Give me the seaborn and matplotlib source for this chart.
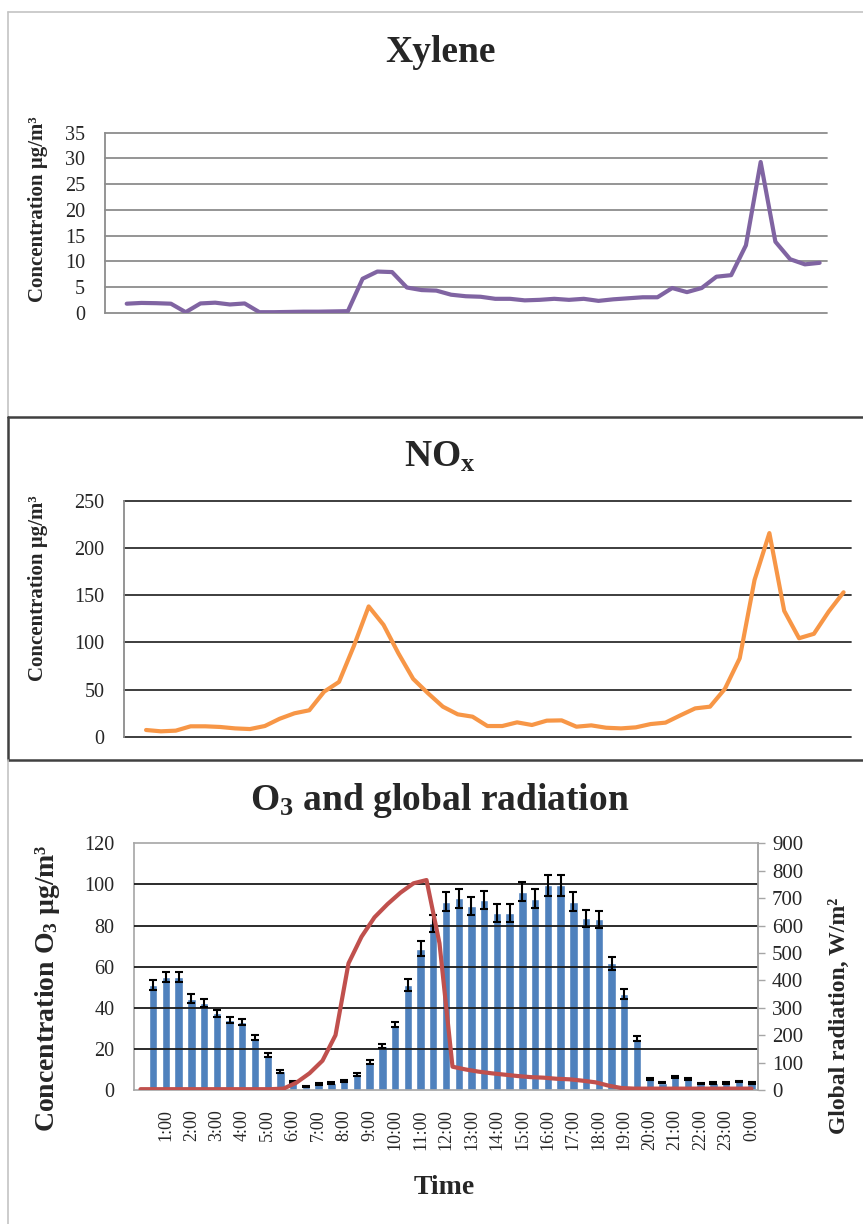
import matplotlib
matplotlib.use("Agg")
import matplotlib.pyplot as plt
from matplotlib.lines import Line2D
import numpy as np
import pandas as pd
import seaborn as sns

# ---------------- data ----------------
slots = list(range(49))            # 49 half-hour category slots
data_slots = list(range(1, 49))    # slots that carry data
hour_labels = [f"{h}:00" for h in range(1, 24)] + ["0:00"]

xylene = [1.75, 1.9, 1.85, 1.75, 0.1, 1.8, 1.95, 1.6, 1.8, 0.1,
          0.1, 0.15, 0.2, 0.2, 0.25, 0.3, 6.6, 8.0, 7.9, 4.9,
          4.4, 4.3, 3.5, 3.2, 3.1, 2.7, 2.7, 2.4, 2.5, 2.7,
          2.5, 2.7, 2.3, 2.6, 2.8, 3.0, 3.0, 4.8, 4.0, 4.8,
          7.0, 7.3, 13.1, 29.3, 13.8, 10.4, 9.4, 9.7]

nox = [7.1, 5.7, 6.4, 11, 11, 10.3, 8.8, 8.1, 11.3, 19,
       24.8, 28, 47.7, 58, 96, 138, 118.5, 88.4, 61.2, 46,
       31.8, 23.7, 21.2, 11.3, 11.3, 15.2, 12.4, 17, 17.3, 10.6,
       12, 9.5, 8.8, 9.9, 13.4, 14.9, 22.6, 30, 31.8, 50.6,
       83, 166, 215.7, 133.3, 104.3, 109, 132.6, 153]

o3 = [51, 55, 55, 44.3, 42.5, 37.3, 34, 33, 25.5, 17,
      9, 4, 1.6, 2.8, 3.4, 4.2, 7.6, 13.6, 21.4, 31.8,
      51, 68.7, 81, 91.6, 93.2, 89.5, 92.4, 86.3, 86, 96.5,
      93, 99.7, 99.7, 91.6, 83.5, 83, 61.6, 46.5, 25, 5.5,
      3.6, 6.5, 5.5, 3.2, 3.5, 3.5, 4.2, 3.5]

o3_err = [2.6, 2.6, 2.6, 2.2, 2.0, 1.8, 1.5, 1.5, 1.1, 1.0,
          0.6, 0.5, 0.3, 0.4, 0.4, 0.5, 0.6, 1.0, 1.1, 1.3,
          2.8, 3.7, 4.3, 4.7, 4.5, 4.6, 4.5, 4.4, 4.3, 4.5,
          4.6, 5.1, 5.1, 4.6, 4.2, 4.0, 3.3, 2.4, 1.1, 0.5,
          0.4, 0.5, 0.5, 0.4, 0.4, 0.4, 0.4, 0.4]

rad_slots = list(range(48))        # radiation uses its own 48-point axis
radiation = [3, 3, 3, 3, 3, 3, 3, 3, 3, 3,
             3, 5, 27, 61, 107, 200, 462, 559, 630, 678,
             720, 754, 766, 535, 85, 75, 67, 61, 56, 51,
             47, 45, 41, 39, 34, 28, 16, 7, 5, 5,
             5, 5, 5, 5, 5, 5, 5, 5]

# ---------------- style ----------------
sns.set_style("white")
plt.rcParams['font.family'] = ['Liberation Serif', 'DejaVu Serif']
plt.rcParams['mathtext.fontset'] = 'custom'
plt.rcParams['mathtext.rm'] = 'Liberation Serif'
plt.rcParams['mathtext.bf'] = 'Liberation Serif:bold'
plt.rcParams['mathtext.it'] = 'Liberation Serif:italic'

W, H = 863, 1224
fig = plt.figure(figsize=(W / 100, H / 100), dpi=100)
fig.patch.set_facecolor('white')


def rect(l, t, r, b):
    return [l / W, 1 - b / H, (r - l) / W, (b - t) / H]


def fx(x):
    return x / W


def fy(y):
    return 1 - y / H


def hline(x0, x1, y, color, lw):
    fig.add_artist(Line2D([fx(x0), fx(x1)], [fy(y), fy(y)], color=color, lw=lw))


def vline(x, y0, y1, color, lw):
    fig.add_artist(Line2D([fx(x), fx(x)], [fy(y0), fy(y1)], color=color, lw=lw))


# panel frames
light = '#c4c4c4'
dark = '#404040'
hline(8, 863, 12, light, 1.2)
vline(8, 12, 417, light, 1.2)
hline(8, 863, 417, dark, 1.8)
vline(8, 417, 760, dark, 1.8)
hline(8, 863, 760, dark, 1.8)
vline(8, 760, 1224, light, 1.2)

tick_font = 14.5

# ---------------- Xylene ----------------
ax1 = fig.add_axes(rect(104.6, 132.7, 827, 312.7))
df1 = pd.DataFrame({'slot': data_slots, 'value': xylene})
sns.lineplot(data=df1, x='slot', y='value', ax=ax1, color='#8064A2', lw=3.0)
ax1.set_xlim(-0.5, 48.5)
ax1.set_ylim(0, 35)
ax1.set_yticks(range(0, 36, 5))
ax1.set_xticks([])
ax1.grid(axis='y', color='#8c8c8c', lw=1.3)
ax1.set_axisbelow(True)
for gl in ax1.get_ygridlines():
    gl.set_clip_on(False)
for s in ['top', 'right', 'bottom']:
    ax1.spines[s].set_visible(False)
ax1.spines['left'].set_color('#8c8c8c')
ax1.spines['left'].set_linewidth(1.3)
ax1.tick_params(axis='y', length=0, pad=14, labelsize=tick_font)
ax1.set_xlabel('')
ax1.set_ylabel('')

fig.text(fx(440), fy(62), 'Xylene', ha='center', va='baseline',
         fontsize=27, fontweight='bold')
fig.text(fx(38.5), fy(209), 'Concentration µg/m³', rotation=90,
         ha='center', va='center', fontsize=15, fontweight='bold')

# ---------------- NOx ----------------
ax2 = fig.add_axes(rect(123.8, 500.7, 851, 736.7))
df2 = pd.DataFrame({'slot': data_slots, 'value': nox})
sns.lineplot(data=df2, x='slot', y='value', ax=ax2, color='#F79646', lw=3.0)
ax2.set_xlim(-0.5, 48.5)
ax2.set_ylim(0, 250)
ax2.set_yticks(range(0, 251, 50))
ax2.set_xticks([])
ax2.grid(axis='y', color='#2e2e2e', lw=1.3)
ax2.set_axisbelow(True)
for gl in ax2.get_ygridlines():
    gl.set_clip_on(False)
for s in ['top', 'right', 'bottom']:
    ax2.spines[s].set_visible(False)
ax2.spines['left'].set_color('#8c8c8c')
ax2.spines['left'].set_linewidth(1.3)
ax2.tick_params(axis='y', length=0, pad=14, labelsize=tick_font)
ax2.set_xlabel('')
ax2.set_ylabel('')

fig.text(fx(440), fy(467), r'NO$_\mathbf{x}$', ha='center', va='baseline',
         fontsize=27, fontweight='bold')
fig.text(fx(38.5), fy(588), 'Concentration µg/m³', rotation=90,
         ha='center', va='center', fontsize=15, fontweight='bold')

# ---------------- O3 and global radiation ----------------
o3_rect = rect(134, 843.3, 758, 1090)
ax3 = fig.add_axes(o3_rect)
df3 = pd.DataFrame({'slot': data_slots, 'o3': o3})
sns.barplot(data=df3, x='slot', y='o3', order=slots, color='#4F81BD',
            saturation=1, width=0.66, errorbar=None, ax=ax3)
ax3.errorbar(data_slots, o3, yerr=o3_err, fmt='none', ecolor='black',
             elinewidth=1.5, capsize=2.6, capthick=1.5, zorder=3)
ax3.set_xlim(-0.5, 48.5)
ax3.set_ylim(0, 120)
ax3.set_yticks(range(0, 121, 20))
ax3.grid(axis='y', color='#1a1a1a', lw=1.3)
ax3.grid(axis='x', visible=False)
ax3.set_axisbelow(False)
ygl = ax3.get_ygridlines()
ygl[0].set_visible(False)
ygl[-1].set_visible(False)
for s in ['top', 'right', 'bottom', 'left']:
    ax3.spines[s].set_color('#a6a6a6')
    ax3.spines[s].set_linewidth(1.2)
ax3.set_xticks(range(2, 49, 2))
ax3.set_xticklabels(hour_labels, rotation=90)
ax3.tick_params(axis='x', length=0, pad=14, labelsize=13)
ax3.tick_params(axis='y', length=0, pad=14, labelsize=tick_font)
ax3.set_xlabel('')
ax3.set_ylabel('')

ax4 = fig.add_axes(o3_rect)
ax4.patch.set_alpha(0)
df4 = pd.DataFrame({'slot': rad_slots, 'rad': radiation})
sns.lineplot(data=df4, x='slot', y='rad', ax=ax4, color='#C0504D', lw=3.0)
ax4.set_xlim(-0.5, 47.5)
ax4.set_ylim(0, 900)
ax4.yaxis.tick_right()
ax4.set_yticks(range(0, 901, 100))
ax4.set_xticks([])
ax4.grid(False)
for s in ['top', 'bottom', 'left']:
    ax4.spines[s].set_visible(False)
ax4.spines['right'].set_color('#a6a6a6')
ax4.spines['right'].set_linewidth(1.2)
ax4.tick_params(axis='y', direction='out', length=5, width=1.0,
                color='#a6a6a6', pad=5, labelsize=15)
ax4.set_xlabel('')
ax4.set_ylabel('')

fig.text(fx(440), fy(810), r'O$_\mathbf{3}$ and global radiation',
         ha='center', va='baseline', fontsize=27, fontweight='bold')
fig.text(fx(48), fy(988), r'Concentration O$_\mathbf{3}$ µg/m³', rotation=90,
         ha='center', va='center', fontsize=20, fontweight='bold')
fig.text(fx(839), fy(1016), 'Global radiation, W/m²', rotation=90,
         ha='center', va='center', fontsize=17, fontweight='bold')
fig.text(fx(444), fy(1188), 'Time', ha='center', va='center',
         fontsize=20, fontweight='bold')

fig.savefig('out.png', dpi=100)
